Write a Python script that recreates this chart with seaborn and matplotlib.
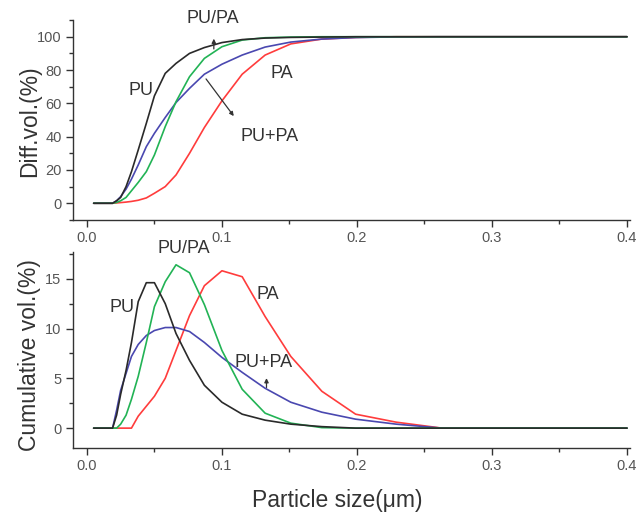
import numpy as np
import pandas as pd
import seaborn as sns
import matplotlib.pyplot as plt
from matplotlib.ticker import MultipleLocator

# particle size bins (um), log spaced as from the sizer
size = [0.005, 0.019, 0.022, 0.025, 0.029, 0.033, 0.038, 0.044, 0.050, 0.058,
        0.066, 0.076, 0.087, 0.100, 0.115, 0.132, 0.151, 0.174, 0.199, 0.229,
        0.263, 0.302, 0.346, 0.400]

# upper panel (cumulative curves)
pu_top = [0, 0, 1.5, 3.5, 10, 19, 32, 48, 64.5, 78, 84, 90, 93.5, 96.5, 98.3,
          99.2, 99.6, 99.8, 100, 100, 100, 100, 100, 100]
pupa_top = [0, 0, 0.5, 1.5, 3.5, 7.5, 12.5, 19, 29, 46, 61, 76, 87, 94,
            98, 99.4, 99.8, 100, 100, 100, 100, 100, 100, 100]
mix_top = [0, 0, 1.5, 4, 8.5, 14.5, 23, 34, 42, 51.5, 60.5, 69, 77.5,
           83.5, 89, 93.8, 96.8, 98.6, 99.5, 99.9, 100, 100, 100, 100]
pa_top = [0, 0, 0.2, 0.4, 0.7, 1.1, 1.8, 3.2, 6, 10, 17, 30, 45.5, 61.5,
          77.5, 89, 95.7, 98.6, 99.6, 100, 100, 100, 100, 100]

# lower panel (distribution)
pu_bot = [0, 0, 1.3, 3.4, 5.8, 8.6, 12.7, 14.6, 14.6, 12.5, 9.5, 6.8, 4.3, 2.6,
          1.4, 0.8, 0.4, 0.15, 0, 0, 0, 0, 0, 0]
pupa_bot = [0, 0, 0, 0.4, 1.3, 2.9, 5.2, 8.6, 12.2, 14.7, 16.4, 15.6, 12.4, 7.8,
            3.9, 1.5, 0.5, 0.05, 0, 0, 0, 0, 0, 0]
mix_bot = [0, 0, 1.8, 3.8, 5.5, 7.2, 8.4, 9.3, 9.8, 10.1, 10.1, 9.7, 8.6, 7.1,
           5.6, 4.0, 2.6, 1.6, 0.9, 0.4, 0, 0, 0, 0]
pa_bot = [0, 0, 0, 0, 0, 0, 1.2, 2.2, 3.2, 5.0, 7.8, 11.3, 14.3, 15.8, 15.2, 11.2,
          7.2, 3.7, 1.4, 0.6, 0, 0, 0, 0]

colors = {"PU": "#2a2a2a", "PU/PA": "#22b355", "PU+PA": "#4a48b0", "PA": "#ff3c3c"}
top = {"PU": pu_top, "PU/PA": pupa_top, "PU+PA": mix_top, "PA": pa_top}
bot = {"PU": pu_bot, "PU/PA": pupa_bot, "PU+PA": mix_bot, "PA": pa_bot}

sns.set_theme(style="ticks")
plt.rcParams['font.family'] = ['Liberation Sans', 'DejaVu Sans']

fig = plt.figure(figsize=(6.38, 5.15), dpi=100)
ax1 = fig.add_axes([0.114, 0.573, 0.873, 0.388])
ax2 = fig.add_axes([0.114, 0.130, 0.873, 0.381])

for name in ["PA", "PU+PA", "PU/PA", "PU"]:
    sns.lineplot(x=size, y=top[name], color=colors[name], lw=1.2, ax=ax1)
    sns.lineplot(x=size, y=bot[name], color=colors[name], lw=1.2, ax=ax2)

txt = dict(fontsize=13, color="#333333", ha="center", va="center")
arr = dict(arrowstyle="-|>", color="#333333", lw=0.9, mutation_scale=6)

ax1.set_ylim(-10, 110)
ax1.yaxis.set_major_locator(MultipleLocator(20))
ax1.yaxis.set_minor_locator(MultipleLocator(10))
ax1.text(0.040, 68, "PU", **txt)
ax1.text(0.093, 111, "PU/PA", clip_on=False, **txt)
ax1.annotate("", xy=(0.094, 100.5), xytext=(0.094, 91), arrowprops=arr)
ax1.text(0.144, 78, "PA", **txt)
ax1.text(0.135, 40, "PU+PA", **txt)
ax1.annotate("", xy=(0.110, 51), xytext=(0.087, 76), arrowprops=arr)

ax2.set_ylim(-2, 17.7)
ax2.yaxis.set_major_locator(MultipleLocator(5))
ax2.yaxis.set_minor_locator(MultipleLocator(2.5))
ax2.text(0.026, 12.1, "PU", **txt)
ax2.text(0.072, 18.0, "PU/PA", clip_on=False, **txt)
ax2.text(0.134, 13.4, "PA", **txt)
ax2.text(0.131, 6.6, "PU+PA", **txt)
ax2.annotate("", xy=(0.133, 5.3), xytext=(0.133, 3.8), arrowprops=arr)

for ax in (ax1, ax2):
    ax.set_xlim(-0.0105, 0.402)
    ax.xaxis.set_major_locator(MultipleLocator(0.1))
    ax.xaxis.set_minor_locator(MultipleLocator(0.05))
    ax.xaxis.set_major_formatter(plt.FuncFormatter(lambda v, p: f"{v:.1f}"))
    sns.despine(ax=ax)
    for s in ("left", "bottom"):
        ax.spines[s].set_color("#333333")
        ax.spines[s].set_linewidth(1.0)
    ax.tick_params(which="major", length=5, width=1, color="#333333",
                   labelsize=10.5, labelcolor="#555555", pad=3)
    ax.tick_params(which="minor", length=3, width=1, color="#333333")
    ax.set_xlabel("")
    ax.set_ylabel("")

fig.text(0.047, 0.765, "Diff.vol.(%)", rotation=90, ha="center", va="center",
         fontsize=16.5, color="#333333")
fig.text(0.047, 0.311, "Cumulative vol.(%)", rotation=90, ha="center", va="center",
         fontsize=16.5, color="#333333")
fig.text(0.528, 0.028, "Particle size(\u03bcm)", ha="center", va="center",
         fontsize=16.5, color="#333333")

plt.savefig("out.png", dpi=100)
